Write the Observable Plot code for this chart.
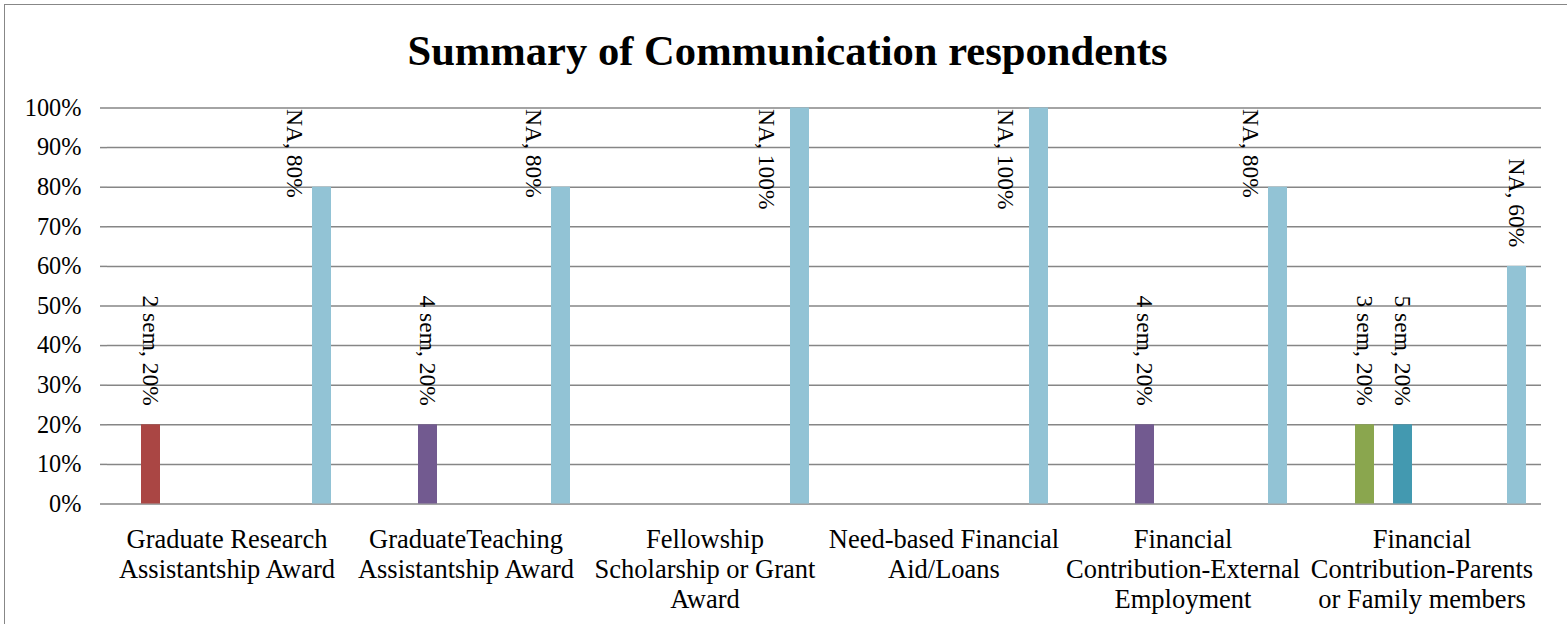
<!DOCTYPE html>
<html>
<head>
<meta charset="utf-8">
<script src="https://cdn.jsdelivr.net/npm/d3@7"></script>
<script src="https://cdn.jsdelivr.net/npm/@observablehq/plot@0.6"></script>
<style>
  html, body { margin: 0; padding: 0; background: #fff; overflow: hidden; }
  #wrap { position: relative; width: 1567px; height: 624px; overflow: hidden;
          font-family: "Liberation Serif", "Times New Roman", serif; background: #fff; }
  #border { position: absolute; left: 4.2px; top: 4px; width: 1700px; height: 800px; z-index: 5; pointer-events: none;
            border-left: 1.6px solid #878787; border-top: 1.6px solid #878787; box-sizing: border-box; }
  #title { position: relative; height: 74px; box-sizing: border-box; padding-top: 27.4px;
           font-size: 42.6px; line-height: 47px; font-weight: bold; text-align: center;
           width: 1575px; color: #000; white-space: nowrap; }
  #chart { position: relative; }
</style>
</head>
<body>
<div id="wrap">
  <div id="border"></div>
  <div id="title">Summary of Communication respondents</div>
  <div id="chart"></div>
</div>
<script>
// ---- data ----
const categories = [
  "Graduate Research Assistantship Award",
  "GraduateTeaching Assistantship Award",
  "Fellowship Scholarship or Grant Award",
  "Need-based Financial Aid/Loans",
  "Financial Contribution-External Employment",
  "Financial Contribution-Parents or Family members"
];
const categoryLabels = [
  "Graduate Research\nAssistantship Award",
  "GraduateTeaching\nAssistantship Award",
  "Fellowship\nScholarship or Grant\nAward",
  "Need-based Financial\nAid/Loans",
  "Financial\nContribution-External\nEmployment",
  "Financial\nContribution-Parents\nor Family members"
];
const series = ["1 sem", "2 sem", "3 sem", "4 sem", "5 sem", "6 sem", "7 sem", "8 sem", "9 sem", "10 sem", "NA"];
const sem2 = [0.2, null, null, null, null, null];
const sem3 = [null, null, null, null, null, 0.2];
const sem4 = [null, 0.2, null, null, 0.2, null];
const sem5 = [null, null, null, null, null, 0.2];
const na   = [0.8, 0.8, 1.0, 1.0, 0.8, 0.6];
const yTicks = [0, 0.1, 0.2, 0.3, 0.4, 0.5, 0.6, 0.7, 0.8, 0.9, 1.0];
const yTickLabels = ["0%", "10%", "20%", "30%", "40%", "50%", "60%", "70%", "80%", "90%", "100%"];

// ---- styles ----
const seriesColors = ["#4A7AB3", "#AA4644", "#8AA64E", "#725A90", "#4399B0", "#DB843D",
                      "#2C4D75", "#772C2A", "#5F7530", "#4D3B62", "#92C3D5"];
const gridColor = "#868686";

const seriesValues = {"2 sem": sem2, "3 sem": sem3, "4 sem": sem4, "5 sem": sem5, "NA": na};
const rows = [];
for (const [s, vals] of Object.entries(seriesValues)) {
  vals.forEach((v, i) => { if (v != null) rows.push({category: categories[i], series: s, value: v}); });
}
const label = d => `${d.series}, ${Math.round(d.value * 100)}%`;

const W = 1567, H = 550, mL = 107, mR = 26, mT = 33.5, mB = 120.5;
const bw = (W - mL - mR) / categories.length;

const labelFont = {fontSize: 23.5, fill: "black", rotate: 90, lineAnchor: "middle"};

const chart = Plot.plot({
  width: W, height: H,
  marginLeft: mL, marginRight: mR, marginTop: mT, marginBottom: mB,
  style: {fontFamily: "'Liberation Serif', 'Times New Roman', serif", fontSize: "24px", color: "black", background: "transparent", overflow: "visible"},
  fx: {domain: categories, padding: 0},
  x: {domain: series, paddingInner: 0, paddingOuter: 0.75, axis: null},
  y: {domain: [0, 1]},
  color: {domain: series, range: seriesColors},
  marks: [
    Plot.gridY({ticks: yTicks, stroke: gridColor, strokeOpacity: 1, strokeWidth: 1.5}),
    Plot.barY(rows, {fx: "category", x: "series", y: "value", fill: "series"}),
    // category boundary cross ticks
    Plot.ruleX(categories, {fx: d => d, y1: 0, y2: 0, dx: -bw / 2, insetTop: -8, insetBottom: -8, stroke: gridColor, strokeWidth: 1.5}),
    Plot.ruleX(categories.slice(-1), {fx: d => d, y1: 0, y2: 0, dx: bw / 2, insetTop: -8, insetBottom: -8, stroke: gridColor, strokeWidth: 1.5}),
    // value axis line
    Plot.ruleX(categories.slice(0, 1), {fx: d => d, y1: 0, y2: 1, dx: -bw / 2, insetBottom: -8, stroke: gridColor, strokeWidth: 1.5}),
    Plot.axisY({ticks: yTicks, tickFormat: d => yTickLabels[yTicks.indexOf(d)], tickSize: 7, tickPadding: 19,
                fontSize: 24.3, stroke: gridColor, strokeWidth: 1.5, fill: "black", label: null}),
    Plot.axisFx({anchor: "bottom", tickSize: 0, tickPadding: 23, fontSize: 26.5, lineHeight: 1.13,
                 tickFormat: d => categoryLabels[categories.indexOf(d)], label: null, fill: "black"}),
    // data labels: normal (above bar)
    Plot.text(rows.filter(d => d.value <= 0.7), {fx: "category", x: "series", y: "value", text: label,
              textAnchor: "end", dy: -19, ...labelFont}),
    // data labels clamped at top of plot area
    Plot.text(rows.filter(d => d.value > 0.7 && d.value < 0.95), {fx: "category", x: "series", frameAnchor: "top", text: label,
              textAnchor: "start", dy: 1, dx: -27, ...labelFont}),
    Plot.text(rows.filter(d => d.value >= 0.95), {fx: "category", x: "series", frameAnchor: "top", text: label,
              textAnchor: "start", dy: 1, dx: -33, ...labelFont})
  ]
});
document.getElementById("chart").appendChild(chart);
</script>
</body>
</html>
